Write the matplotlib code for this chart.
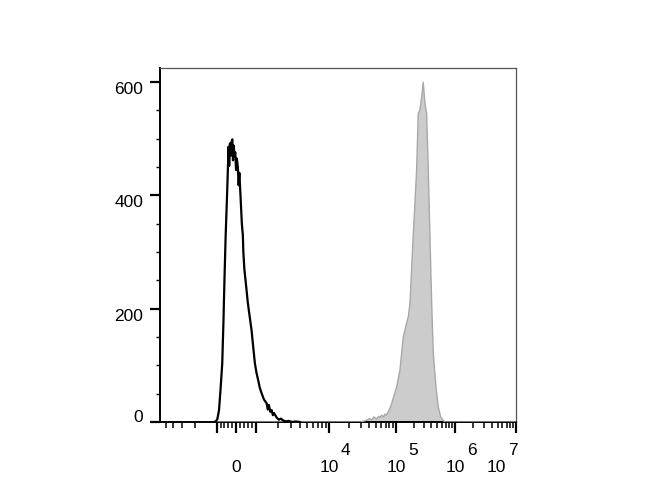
import numpy as np
import matplotlib
matplotlib.use("Agg")
import matplotlib.pyplot as plt
import matplotlib.transforms as mtransforms
from matplotlib.ticker import FixedLocator

plt.rcParams['font.family'] = ['Liberation Sans', 'DejaVu Sans']

# ---------------- data (fluorescence intensity, count) ----------------
control_x = [-1099, -1032, -975, -885, -800, -715, -650, -600, -535, -465, -425, -385,
             -350, -310, -270, -225, -185, -150, -110, -70, -30, 10, 50, 100, 140, 175,
             235, 300, 350, 375, 425, 535, 600, 665, 785, 875, 950, 1016, 1075, 1134,
             1197, 1288, 1403, 1459, 1507, 1580, 1644, 1710, 1767, 1923, 2066, 2200,
             2344, 2576, 2832, 3112, 3532, 4009]
control_y = [0, 1, 5, 21, 60, 104, 180, 250, 330, 398, 440, 486,
             452, 492, 470, 495, 499, 462, 488, 468, 476, 445, 465, 450, 418, 440,
             398, 350, 330, 300, 270, 233, 210, 193, 162, 130, 104, 88, 74, 60,
             51, 40, 33, 22, 30, 18, 21, 12, 16, 8, 4, 6,
             3, 1, 2, 0, 1, 0]

stained_x = [-1000, 30000, 36500, 40000, 43400, 47000, 51500, 55000, 58000, 61200,
             65000, 68500, 72000, 76700, 80000, 86200, 91100, 103000, 117000, 133000,
             152000, 162000, 173000, 196000, 224000, 239000, 255000, 273000, 290000,
             310000, 331000, 353000, 377000, 403000, 429000, 476000, 521000, 572000,
             634000, 677000, 10000000]
stained_y = [0, 0, 3, 6, 4, 9, 5, 10, 8, 12,
             9, 14, 12, 18, 22, 32, 42, 62, 92, 150,
             175, 186, 210, 327, 445, 545, 551, 574, 600,
             563, 545, 445, 327, 210, 122, 62, 27, 9,
             3, 0, 0]

x_major = [-1000, 0, 1000, 1e4, 1e5, 1e6, 1e7]
x_major_labels = ['', '0', '', '10', '10', '10', '10']
x_exponents = {1e4: '4', 1e5: '5', 1e6: '6', 1e7: '7'}
y_major = [0, 200, 400, 600]

# ---------------- biexponential-like display scale ----------------
LIN = 1e3
T_ANCH = np.array([-6.0, -2.0, -1.0, 0.0, 1.0, 2.0, 3.0, 4.0, 5.0, 8.0])
P_ANCH = np.array([-384.0, -92.0, -19.0, 0.0, 20.0, 93.0, 160.0, 219.0, 280.0, 463.0])


def _to_t(x):
    x = np.asarray(x, dtype=float)
    ax_ = np.abs(x)
    with np.errstate(divide='ignore', invalid='ignore'):
        logpart = np.sign(x) * (1.0 + np.log10(np.maximum(ax_, 1e-300) / LIN))
    return np.where(ax_ >= LIN, logpart, x / LIN)


def _from_t(t):
    t = np.asarray(t, dtype=float)
    at = np.abs(t)
    return np.where(at >= 1.0, np.sign(t) * LIN * 10.0 ** (at - 1.0), t * LIN)


def forward(x):
    return np.interp(_to_t(x), T_ANCH, P_ANCH)


def inverse(p):
    return _from_t(np.interp(p, P_ANCH, T_ANCH))


# ---------------- figure ----------------
fig = plt.figure(figsize=(6.7, 5.0), dpi=100)
ax = fig.add_axes([160 / 670, 1 - 422 / 500, (516 - 160) / 670, (422 - 68) / 500])
ax.set_xscale('function', functions=(forward, inverse))

ax.fill_between(stained_x, stained_y, 0, facecolor='#cccccc', edgecolor='none', zorder=2)
ax.plot(stained_x, stained_y, color='#a8a8a8', lw=1.0, zorder=3)
ax.plot(control_x, control_y, color='black', lw=1.6, zorder=4)

ax.set_xlim(-6000, 1e7)
ax.set_ylim(0, 625)

FS = 12.5

# x ticks
ax.set_xticks(x_major)
ax.set_xticklabels(x_major_labels)
minor = [-5000, -4000, -3000, -2000] + list(np.arange(-800, 801, 200))
for d in [1e3, 1e4, 1e5, 1e6]:
    minor += [m * d for m in range(2, 10)]
minor = [m for m in minor if m != 0]
ax.set_xticks(minor, minor=True)
ax.tick_params(axis='x', which='major', direction='out', length=8, width=1.6,
               pad=19, labelsize=FS)
ax.tick_params(axis='x', which='minor', direction='out', length=4, width=1.1)

# y ticks
ax.set_yticks(y_major)
ax.yaxis.set_minor_locator(FixedLocator([v for v in range(50, 626, 50) if v % 200 != 0]))
ax.tick_params(axis='y', which='major', direction='out', length=7, width=1.6,
               pad=5, labelsize=FS)
ax.tick_params(axis='y', which='minor', direction='out', length=3, width=1.0)

for s in ['left', 'bottom']:
    ax.spines[s].set_color('black')
    ax.spines[s].set_linewidth(1.4)
for s in ['top', 'right']:
    ax.spines[s].set_color('#555555')
    ax.spines[s].set_linewidth(0.9)

px = 72.0 / fig.dpi  # points per pixel

# y label offsets to mimic the reference placement
for tk, v in zip(ax.yaxis.get_major_ticks(), y_major):
    dy = 6 * px / 72 if v == 0 else -6 * px / 72
    tk.label1.set_transform(tk.label1.get_transform() +
                            mtransforms.ScaledTranslation(0, dy, fig.dpi_scale_trans))

# x labels: last one sits left of its tick in the reference
label_shift = {1e7: -20}
for tk, v in zip(ax.xaxis.get_major_ticks(), x_major):
    if v in label_shift:
        tk.label1.set_transform(tk.label1.get_transform() +
                                mtransforms.ScaledTranslation(label_shift[v] * px / 72, 0,
                                                              fig.dpi_scale_trans))

# full-size exponents next to the "10" labels
blend = mtransforms.blended_transform_factory(ax.transData, ax.transAxes)
for v, e in x_exponents.items():
    dx = (12 + label_shift.get(v, 0)) * px / 72
    off = mtransforms.ScaledTranslation(dx, -33 * px / 72, fig.dpi_scale_trans)
    ax.text(v, 0, e, transform=blend + off, ha='left', va='baseline',
            fontsize=FS, clip_on=False)

fig.savefig('out.png', dpi=100)
